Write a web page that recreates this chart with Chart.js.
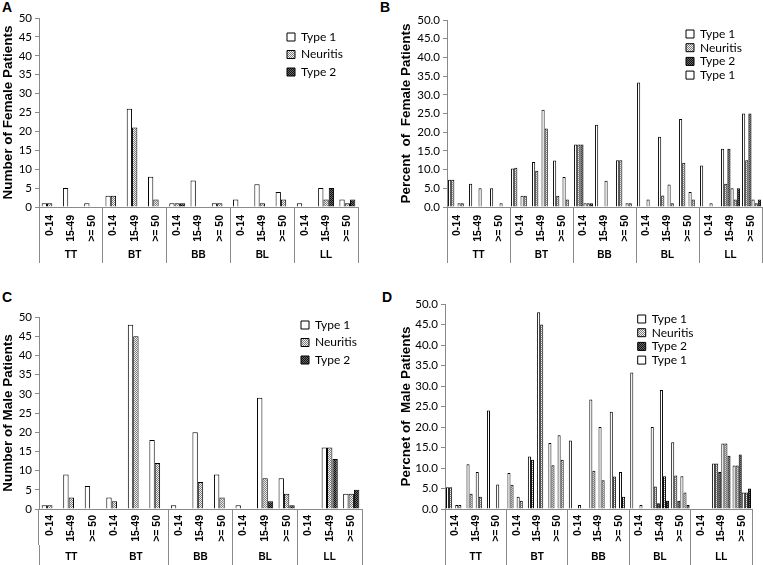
<!DOCTYPE html>
<html lang="en">
<head>
  <meta charset="UTF-8">
  <title>Leprosy reactions by age group and classification</title>
  <script src="https://cdn.jsdelivr.net/npm/chart.js@4.4.0/dist/chart.umd.min.js"></script>
  <style>
    body { margin: 0; background: #fff; width: 763px; height: 565px; position: relative; overflow: hidden; }
    canvas { position: absolute; }
    .tag { position: absolute; font: bold 14px 'Liberation Sans', Arial, sans-serif; color: #000; }
  </style>
</head>
<body>
  <div class="tag" style="left:2px;top:-1px">A</div>
  <div class="tag" style="left:380px;top:-1px">B</div>
  <div class="tag" style="left:2px;top:289px">C</div>
  <div class="tag" style="left:382px;top:289px">D</div>

  <canvas id="chartA" width="380" height="270" style="left:0;top:0"></canvas>
  <canvas id="chartB" width="383" height="270" style="left:380px;top:0"></canvas>
  <canvas id="chartC" width="380" height="295" style="left:0;top:270px"></canvas>
  <canvas id="chartD" width="383" height="295" style="left:380px;top:270px"></canvas>

  <script>
    const ageLabels = ['0-14', '15-49', '>= 50', '0-14', '15-49', '>= 50', '0-14', '15-49', '>= 50',
                       '0-14', '15-49', '>= 50', '0-14', '15-49', '>= 50'];
    const groupLabels = ['TT', 'BT', 'BB', 'BL', 'LL'];

    // female patients, counts (A)
    const femType1    = [1, 5, 1,  3, 26, 8,  1, 7, 1,  2, 6, 4,  1, 5, 2];
    const femNeuritis = [1, 0, 0,  3, 21, 2,  1, 0, 1,  0, 1, 2,  0, 2, 1];
    const femType2    = [0, 0, 0,  0, 0, 0,   1, 0, 0,  0, 0, 0,  0, 5, 2];

    // female patients, percent (B)
    const femPctType1    = [7.3, 6.2, 5.0,  10.3, 12.0, 12.4,  16.7, 22.0, 12.5,  33.3, 18.8, 23.5,  11.1, 15.6, 25.0];
    const femPctNeuritis = [7.3, 0, 0,      10.5, 9.7, 3.0,    16.7, 0, 12.5,     0, 3.1, 11.8,      0, 6.2, 12.5];
    const femPctType2    = [0, 0, 0,        0, 0, 0,           16.7, 0, 0,        0, 0, 0,           0, 15.6, 25.0];

    // male patients, counts (C)
    const maleType1    = [1, 9, 6,  3, 48, 18,  1, 20, 9,  1, 29, 8,  0, 16, 4];
    const maleNeuritis = [1, 3, 0,  2, 45, 12,  0, 7, 3,   0, 8, 4,   0, 16, 4];
    const maleType2    = [0, 0, 0,  0, 0, 0,    0, 0, 0,   0, 2, 1,   0, 13, 5];

    // male patients, percent (D)
    const malePctType1    = [5.3, 10.9, 24.0,  8.8, 12.8, 16.1,  16.7, 26.7, 23.7,  33.3, 20.0, 16.3,  0, 11.1, 10.6];
    const malePctNeuritis = [5.3, 3.7, 0,      5.9, 12.0, 10.7,  0, 9.3, 7.9,       0, 5.5, 8.2,       0, 11.1, 10.6];
    const malePctType2    = [0, 0, 0,          0, 0, 0,          0, 0, 0,           0, 1.4, 2.0,       0, 9.0, 13.3];

    const axisGray = '#8a8a8a';
    Chart.defaults.font.family = 'Lato';
    Chart.defaults.color = '#000';

    function pattern(base, dot) {
      const t = document.createElement('canvas');
      t.width = 2; t.height = 2;
      const g = t.getContext('2d');
      g.fillStyle = base; g.fillRect(0, 0, 2, 2);
      g.fillStyle = dot; g.fillRect(0, 0, 1, 1); g.fillRect(1, 1, 1, 1);
      return g.createPattern(t, 'repeat');
    }
    const neuritisFill = pattern('#f2f2f2', '#7c7c7c');
    const type2Fill = pattern('#6a6a6a', '#101010');

    function bars(label, data, fill) {
      return { label: label, data: data, backgroundColor: fill, borderColor: '#000', borderWidth: 1 };
    }

    // moves the legend (laid out in the chart area) to a fixed spot
    const placeLegend = {
      id: 'placeLegend',
      afterLayout(chart, args, o) {
        const lg = chart.legend;
        lg.left = o.x; lg.top = o.y;
        lg.right = o.x + lg.width; lg.bottom = o.y + lg.height;
      }
    };

    function makePanel(id, p) {
      const skip = p.skip || [];
      new Chart(document.getElementById(id), {
        type: 'bar',
        data: { labels: ageLabels, datasets: p.datasets },
        plugins: [placeLegend],
        options: {
          responsive: false,
          animation: false,
          devicePixelRatio: 1,
          layout: { padding: { left: 0, top: p.top, right: p.right, bottom: p.bottom } },
          datasets: { bar: { barPercentage: 1, categoryPercentage: p.cat } },
          scales: {
            x: {
              offset: true,
              grid: {
                offset: true, drawOnChartArea: false, tickLength: 36,
                color: c => {
                  const i = c.index === undefined ? ageLabels.length : c.index;
                  return (i % 3 === 0 && !skip.includes(i / 3)) ? axisGray : 'rgba(0,0,0,0)';
                }
              },
              border: { color: axisGray },
              ticks: {
                autoSkip: false, minRotation: 90, maxRotation: 90, padding: p.agePad,
                font: { family: 'Liberation Sans', weight: 'bold', size: 10.5 }
              },
              afterFit: s => { s.height = 36; }
            },
            groups: {
              type: 'category',
              labels: groupLabels,
              position: 'bottom',
              offset: true,
              grid: {
                offset: true, drawOnChartArea: false, tickLength: 20,
                color: c => {
                  const i = c.index === undefined ? groupLabels.length : c.index;
                  return skip.includes(i) ? 'rgba(0,0,0,0)' : axisGray;
                }
              },
              border: { display: false },
              ticks: { padding: -14, font: { family: 'Liberation Sans', weight: 'bold', size: 10 } },
              afterFit: s => { s.height = 20; }
            },
            y: {
              min: 0, max: 50,
              ticks: {
                stepSize: 5, padding: 3, font: { size: 11.5 },
                callback: v => p.decimals ? v.toFixed(1) : v
              },
              grid: { drawOnChartArea: false, tickLength: 4, color: axisGray },
              border: { color: axisGray },
              title: {
                display: true, text: p.title,
                font: { family: 'Liberation Sans', weight: 'bold', size: 13.5 },
                padding: { top: p.titlePad, bottom: 0 }
              },
              afterFit: s => { s.width = p.yWidth; }
            }
          },
          plugins: {
            legend: {
              position: 'chartArea',
              align: 'start',
              labels: {
                boxWidth: 8, boxHeight: 8, padding: p.legendGap, font: { size: 12 },
                filter: item => item.datasetIndex < 4
              }
            },
            tooltip: { enabled: false },
            placeLegend: { x: p.legendX, y: p.legendY }
          }
        }
      });
    }

    makePanel('chartA', {
      datasets: [bars('Type 1', femType1, '#fff'), bars('Neuritis', femNeuritis, neuritisFill), bars('Type 2', femType2, type2Fill)],
      title: 'Number of Female Patients', titlePad: 0, yWidth: 39,
      top: 18, right: 22, bottom: 7, cat: 0.75, agePad: -28,
      legendGap: 5.5, legendX: 281.5, legendY: 25.5
    });

    makePanel('chartB', {
      datasets: [bars('Type 1', femPctType1, '#fff'), bars('Neuritis', femPctNeuritis, neuritisFill), bars('Type 2', femPctType2, type2Fill),
                 bars('Type 1', femType1, '#fff'), bars('Neuritis', femNeuritis, neuritisFill), bars('Type 2', femType2, type2Fill)],
      title: 'Percent  of  Female Patients', titlePad: 18, yWidth: 67, decimals: true,
      top: 20, right: 1, bottom: 7, cat: 0.9, agePad: -28,
      legendGap: 1.7, legendX: 304.3, legendY: 26.3
    });

    makePanel('chartC', {
      datasets: [bars('Type 1', maleType1, '#fff'), bars('Neuritis', maleNeuritis, neuritisFill), bars('Type 2', maleType2, type2Fill)],
      title: 'Number of Male Patients', titlePad: 0, yWidth: 39, skip: [1],
      top: 47, right: 18, bottom: 0, cat: 0.75, agePad: -30,
      legendGap: 5.5, legendX: 295.5, legendY: 43.5
    });

    makePanel('chartD', {
      datasets: [bars('Type 1', malePctType1, '#fff'), bars('Neuritis', malePctNeuritis, neuritisFill), bars('Type 2', malePctType2, type2Fill),
                 bars('Type 1', maleType1, '#fff'), bars('Neuritis', maleNeuritis, neuritisFill), bars('Type 2', maleType2, type2Fill)],
      title: 'Percnet of  Male Patients', titlePad: 18, yWidth: 65, decimals: true,
      top: 34, right: 11, bottom: 0, cat: 0.9, agePad: -30,
      legendGap: 1.7, legendX: 256, legendY: 41.3
    });
  </script>
</body>
</html>
